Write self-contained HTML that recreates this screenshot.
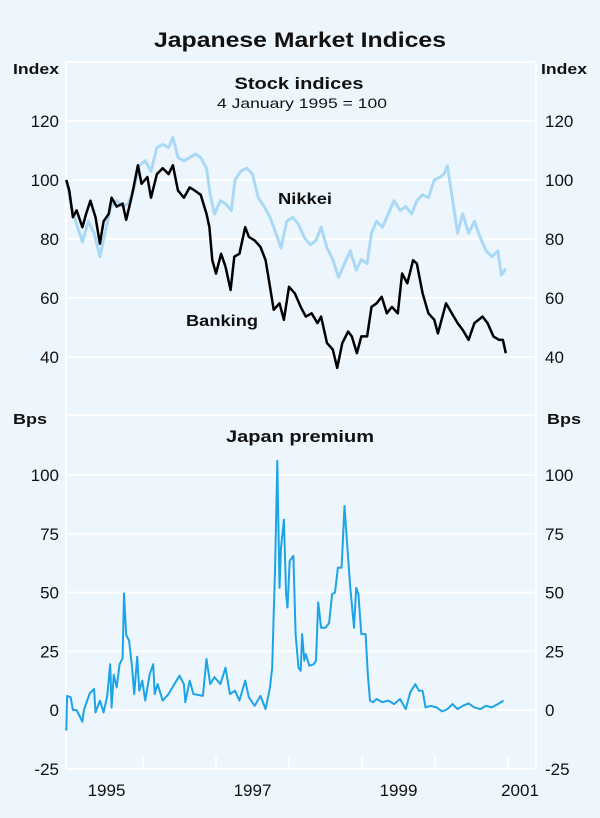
<!DOCTYPE html>
<html><head><meta charset="utf-8"><style>
html,body{margin:0;padding:0;background:#eef6fd;}
svg{display:block;font-family:"Liberation Sans",sans-serif;}
text{fill:#111;}
</style></head><body>
<svg id="chart" width="600" height="818" viewBox="0 0 600 818">
<rect width="600" height="818" fill="#eef6fd"/>
<text x="300" y="47" text-anchor="middle" font-size="21" font-weight="bold" textLength="292" lengthAdjust="spacingAndGlyphs">Japanese Market Indices</text>
<g id="frame"></g>
<text x="13" y="74" font-size="15" font-weight="bold" textLength="46" lengthAdjust="spacingAndGlyphs">Index</text>
<text x="541" y="74" font-size="15" font-weight="bold" textLength="46" lengthAdjust="spacingAndGlyphs">Index</text>
<text x="299" y="89" text-anchor="middle" font-size="17" font-weight="bold" textLength="129" lengthAdjust="spacingAndGlyphs">Stock indices</text>
<text x="302" y="108" text-anchor="middle" font-size="14" textLength="170" lengthAdjust="spacingAndGlyphs">4 January 1995 = 100</text>
<text x="13" y="424" font-size="15" font-weight="bold" textLength="34" lengthAdjust="spacingAndGlyphs">Bps</text>
<text x="547" y="424" font-size="15" font-weight="bold" textLength="34" lengthAdjust="spacingAndGlyphs">Bps</text>
<text x="300" y="442" text-anchor="middle" font-size="17" font-weight="bold" textLength="148" lengthAdjust="spacingAndGlyphs">Japan premium</text>
<text x="278" y="204" font-size="16" font-weight="bold" textLength="54" lengthAdjust="spacingAndGlyphs">Nikkei</text>
<text x="186" y="326" font-size="16" font-weight="bold" textLength="72" lengthAdjust="spacingAndGlyphs">Banking</text>
<g id="ticks"></g>
<g id="series"></g>
</svg>
<script>
// Years since 1995 and values
const nikkeiYears=[-0.05,0.01,0.09,0.17,0.25,0.33,0.41,0.48,0.56,0.64,0.72,0.80,0.88,0.95,1.03,1.11,1.19,1.27,1.35,1.41,1.48,1.56,1.64,1.72,1.79,1.87,1.92,1.98,2.06,2.13,2.21,2.26,2.34,2.42,2.50,2.58,2.66,2.74,2.82,2.89,2.97,3.05,3.13,3.21,3.29,3.37,3.44,3.52,3.60,3.68,3.76,3.84,3.92,3.99,4.07,4.13,4.20,4.28,4.36,4.44,4.52,4.60,4.68,4.75,4.83,4.91,4.99,5.07,5.12,5.17,5.23,5.31,5.38,5.46,5.54,5.62,5.70,5.78,5.86,5.91,5.97];
const nikkeiValues=[100,92,85,79,86,82,74,82,91,93,91,92,97.5,105,106.5,103,111,112,111,114.5,107.6,106.5,107.6,108.8,107.6,104,95,88.5,93,92,89.7,100,103,104,102,94,91,87.4,82,77,86,87.4,85,80.5,78,79.5,84,77,73,67,71.7,76,69.5,73,71.7,82,86,84,88.5,93,89.7,91,88.5,93,95,94,100,101,102,104.8,95,82,88.5,82,86,80.5,76,74,76,67.8,70];
const bankYears=[-0.05,-0.01,0.04,0.09,0.17,0.22,0.28,0.35,0.41,0.46,0.53,0.57,0.64,0.72,0.77,0.85,0.93,0.98,1.06,1.11,1.19,1.27,1.35,1.41,1.48,1.56,1.64,1.71,1.79,1.87,1.91,1.95,2.00,2.07,2.13,2.20,2.25,2.32,2.40,2.45,2.53,2.61,2.68,2.74,2.79,2.87,2.93,3.00,3.08,3.16,3.23,3.31,3.39,3.44,3.52,3.60,3.66,3.73,3.81,3.86,3.93,3.99,4.07,4.13,4.20,4.27,4.34,4.41,4.49,4.55,4.62,4.70,4.75,4.83,4.91,4.99,5.04,5.15,5.23,5.31,5.38,5.46,5.54,5.65,5.72,5.80,5.88,5.93,5.97];
const bankValues=[100,96.4,87.4,89.7,84,88.5,93,87.4,78.4,86,88.5,94,91,92,86.5,95,105,98.7,101,94,102,104,102,105,96.4,94,97.5,96.4,95,88.5,84,72.8,68.3,75,70.6,62.7,74,75,84,80.7,79.5,77.3,72.8,63.8,56,58.2,52.6,63.8,61.6,57,53.7,54.8,51.5,53.7,44.7,42.5,36.3,44.7,48.6,47,41.3,47,47,57,58.2,60.4,54.8,57,54.8,68.3,65,72.8,71.7,61.6,54.8,52.6,48,58.2,54.8,51.5,49.2,45.8,51.5,53.7,51.5,47,45.8,45.8,41.3];
const premYears=[-0.05,-0.04,0.01,0.04,0.09,0.17,0.19,0.27,0.33,0.35,0.41,0.46,0.51,0.55,0.57,0.60,0.64,0.68,0.72,0.74,0.77,0.81,0.85,0.88,0.92,0.95,0.99,1.03,1.09,1.14,1.16,1.20,1.27,1.35,1.43,1.50,1.56,1.58,1.64,1.69,1.82,1.87,1.92,1.98,2.06,2.13,2.19,2.26,2.32,2.40,2.45,2.53,2.61,2.68,2.74,2.77,2.79,2.81,2.84,2.87,2.89,2.93,2.96,2.98,3.01,3.06,3.09,3.13,3.16,3.18,3.21,3.23,3.28,3.34,3.37,3.40,3.44,3.50,3.55,3.59,3.63,3.67,3.72,3.76,3.80,3.84,3.89,3.92,3.95,3.99,4.05,4.08,4.11,4.15,4.20,4.28,4.36,4.44,4.52,4.60,4.66,4.73,4.78,4.83,4.87,4.94,5.02,5.10,5.17,5.24,5.31,5.38,5.46,5.54,5.62,5.70,5.78,5.86,5.94];
const premValues=[-8.8,6,5.4,0,0,-5,0,7,9,-1,4,-1,6,19.5,1,15,9.6,19.5,22,49.6,32,29.5,18,6.8,22.7,8.2,12.5,4,15,19.5,6.8,11,4,6.8,11,14.6,11,3.3,12.5,6.8,6,21.7,11,14,11,18,6.8,8.2,4,12.5,5.4,1.8,6,0.4,9.6,18,40.8,60.6,106,52,69,81,49.3,43.6,63.5,65.6,32.3,18,16.7,32.3,21,23.8,18.8,19.5,21,45.8,35,35,37,49.3,50,60.6,60.6,86.8,69,52,35,52,49.3,32.3,32.3,15.3,4,3.3,4.7,3.3,4,2.5,4.7,0.4,7.5,11,8.2,8.2,1.1,1.8,1.1,-0.6,0.4,2.5,0.4,1.8,2.8,1.1,0.4,1.8,1.1,2.5,4];
const topTicks=[120,100,80,60,40];
const bottomTicks=[100,75,50,25,0,-25];
const yearLabels=["1995","1997","1999","2001"];
const yearTickYears=[1,2,3,4,5,6];

const NS="http://www.w3.org/2000/svg";
const X0=66,X1=536;
function xScale(t){return 70+t*73;}
function yTop(v){return 180+(100-v)*2.95;}
function yBot(v){return 710-v*2.35;}
function mk(tag,attrs,parent){const e=document.createElementNS(NS,tag);for(const k in attrs)e.setAttribute(k,attrs[k]);parent.appendChild(e);return e;}
const frame=document.getElementById('frame');
const ticks=document.getElementById('ticks');
const series=document.getElementById('series');
// frame lines
let l=mk('line',{x1:X0,x2:X1,y1:62,y2:62,stroke:'#fff','stroke-width':2},frame);


l=mk('line',{x1:X0,x2:X1,y1:415,y2:415,stroke:'#fff','stroke-width':2},frame);


l=mk('line',{x1:X0,x2:X0,y1:62,y2:768,stroke:'#fff','stroke-width':2},frame);


l=mk('line',{x1:X1,x2:X1,y1:62,y2:768,stroke:'#fff','stroke-width':2},frame);


topTicks.forEach(v=>{
  const y=yTop(v);
  const g=mk('line',{x1:X0,x2:X1,y1:y,y2:y,stroke:'#fff','stroke-width':2},frame);
  
  
  const a=mk('text',{x:59,y:y+6,'font-size':17,'text-anchor':'end'},ticks);a.textContent=v;
  
  
  const b=mk('text',{x:545,y:y+6,'font-size':17},ticks);b.textContent=v;
  
  
});
bottomTicks.forEach(v=>{
  const y=yBot(v);
  const g=mk('line',{x1:X0,x2:X1,y1:y,y2:y,stroke:'#fff','stroke-width':2},frame);
  
  
  const a=mk('text',{x:59,y:y+6,'font-size':17,'text-anchor':'end'},ticks);a.textContent=v;
  
  
  const b=mk('text',{x:545,y:y+6,'font-size':17},ticks);b.textContent=v;
  
  
});
yearTickYears.forEach(t=>{
  const x=xScale(t);
  const k=mk('line',{x1:x,x2:x,y1:756,y2:768,stroke:'#fff','stroke-width':2},frame);
  
  
});
yearLabels.forEach((s,i)=>{
  let x=xScale(i*2+0.5); if(i===3) x=520;
  const t=mk('text',{x:x,y:796,'font-size':17,'text-anchor':'middle'},ticks);t.textContent=s;
  
  
});
function path(xs,vs,ys,color,w,name){
  let d='';xs.forEach((t,i)=>{d+=(i?'L':'M')+xScale(t).toFixed(1)+','+ys(vs[i]).toFixed(1);});
  const p=mk('path',{d:d,fill:'none',stroke:color,'stroke-width':w,'stroke-linejoin':'round'},series);
  
  
}
path(nikkeiYears,nikkeiValues,yTop,'#aad9f6',3,'nikkei-line');
path(bankYears,bankValues,yTop,'#000',2.5,'banking-line');
path(premYears,premValues,yBot,'#1ca4e6',2,'japan-premium-line');
</script>
</body></html>
